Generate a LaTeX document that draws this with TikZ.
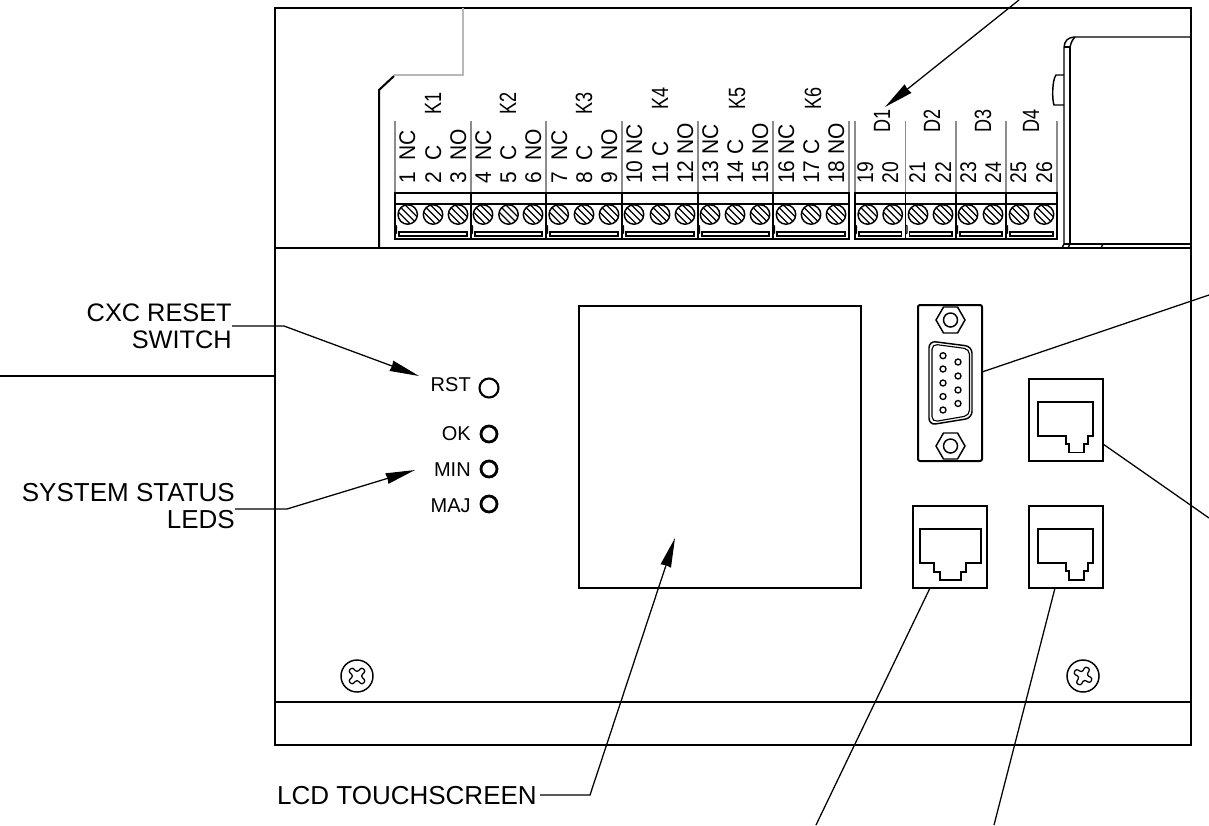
\documentclass[tikz,border=0pt]{standalone}
\usepackage{fontspec}
\setmainfont{Liberation Sans}
\usetikzlibrary{arrows.meta,calc}
\tikzset{
  px/.style={x=0.75pt,y=-0.75pt},
  heavy/.style={line width=1.5pt,black},
  med/.style={line width=1.1pt,black},
  blockline/.style={line width=1pt,black},
  thin1/.style={line width=0.85pt,black},
  leader/.style={line width=0.95pt,black},
  pointer/.style={leader,-{Stealth[length=22pt,width=8pt,inset=0.5pt]}},
  guide/.style={line width=1.1pt,black!45},
  paleguide/.style={line width=1.1pt,black!28},
  big/.style={inner sep=0pt,font=\fontsize{19.5pt}{20.25pt}\selectfont,align=right},
  led/.style={inner sep=0pt,anchor=base east,font=\fontsize{15pt}{18pt}\selectfont},
  term/.style={inner sep=0pt,rotate=90,anchor=base west,font=\fontsize{15.75pt}{18pt}\selectfont},
  jack/.style={draw,heavy,inner sep=0pt,minimum width=55.5pt,minimum height=61.5pt},
}
\newcommand{\screwhead}[2]{%
  \draw[line width=1.1pt] (#1,#2) circle (9.7);
  \begin{scope}[shift={(#1,#2)}]
    \clip (0,0) circle (9.7);
    \draw[line width=.9pt] (-9,-9) -- (9,9) (-9,-16) -- (16,9) (-16,-9) -- (9,16);
  \end{scope}}
\newcommand{\panelscrew}[3]{%
  \draw[med] (#1,#2) circle (16);
  \begin{scope}[shift={(#1,#2)},rotate=#3]
    \draw[line width=.95pt,rounded corners=1.6pt] (-2.7,-2.7) -- (-2.7,-9.5) -- (2.7,-9.5) -- (2.7,-2.7) -- (9.5,-2.7) -- (9.5,2.7) -- (2.7,2.7) -- (2.7,9.5) -- (-2.7,9.5) -- (-2.7,2.7) -- (-9.5,2.7) -- (-9.5,-2.7) -- cycle;
  \end{scope}}
\newcommand{\hexnut}[2]{%
  \draw[med] (#1-14.5,#2) -- (#1-7,#2-13) -- (#1+7,#2-13) -- (#1+14.5,#2) -- (#1+7,#2+13) -- (#1-7,#2+13) -- cycle;
  \draw[med] (#1,#2) circle (7);}
\begin{document}
\begin{tikzpicture}[px]
\useasboundingbox (0,0) rectangle (1209,825);
% housing
\draw[heavy] (275,8) rectangle (1191,745);
\draw[heavy] (275,248) -- (1191,248);
\draw[heavy] (275,702) -- (1191,702);
\draw[paleguide] (463,8) -- (463,75) -- (394,75);
\draw[heavy] (394,76) -- (379,90) -- (379,248);
% right module
\draw[med] (1191,37) -- (1075,37) .. controls (1068,37) and (1064,41) .. (1064,48) -- (1064,244);
\draw[med] (1070,244) -- (1070,47) -- (1064,47);
\draw[med] (1070,47) .. controls (1071,43) and (1072,40) .. (1075,37);
\draw[med] (1064,244) -- (1191,244);
\draw[med] (1064,244) -- (1062,248) (1070,244) -- (1068,248) (1103,244) -- (1101,248);
\draw[med] (1064,75) -- (1056,75) .. controls (1052,80) and (1052,100) .. (1054,105) -- (1064,105);
% relay and digital terminal blocks
\foreach \a/\b in {395/471,471/546,546/622,622/698,698/773,773/849,855/905.5,905.5/956,956/1006,1006/1057}{
  \draw[guide] (\a,121) -- (\a,193);
  \draw[guide] (\b,121) -- (\b,193);
  \draw[blockline] (\a,193) rectangle (\b,239);
  \draw[blockline] (\a,204) -- (\b,204);
  \draw[thin1] (\a+4,232) rectangle (\b-4,236);
  \draw[thin1] (\a,225) -- (\a+1.5,226) -- (\a+1.5,233) -- (\a,234);
}
\foreach \x in {407.7,433,458,483,508.5,533,558.7,584,609,634,660,685,710,735,760,786,811,836,867.7,892.7,918,943,968,993,1019,1044}{
  \screwhead{\x}{214.5}
}
% terminal labels
\foreach \i/\x/\t in {a/407/1\ \ NC,b/433/2\ \ C,c/458/3\ \ NO,d/483/4\ \ NC,e/508/5\ \ C,f/533/6\ \ NO,g/559/7\ \ NC,h/584/8\ \ C,i/609/9\ \ NO,j/634/10 NC,k/660/11 C,l/685/12 NO,m/710/13 NC,n/735/14 C,o/760/15 NO,p/786/16 NC,q/811/17 C,r/836/18 NO}{
  \node[term,name=lab\i] at (\x+8,184) {\scalebox{1}[1.08]{\t}};
}
\foreach \i/\x/\t in {s/865/19,t/890/20,u/917/21,v/943/22,w/968/23,x/993/24,y/1018/25,z/1044/26}{
  \node[term,name=lab\i] at (\x+8,184) {\scalebox{.92}[1.08]{\t}};
}
\foreach \x/\y/\t in {433/115/K1,508/115/K2,584/115/K3,660/110/K4,737/110/K5,813/110/K6,882/133/D1,932/133/D2,983/133/D3,1031/133/D4}{
  \node[term,name=lab\t] at (\x+8,\y) {\scalebox{.86}[1.12]{\t}};
}
% LEDs
\node[led] (rst) at (471,391) {RST};
\node[led] (ok) at (471,440) {OK};
\node[led] (min) at (471,476) {MIN};
\node[led] (maj) at (471,512) {MAJ};
\draw[line width=1.6pt] (489,388) circle (9.5);
\draw[line width=2.1pt] (489,434) circle (8);
\draw[line width=2.1pt] (489,469) circle (8);
\draw[line width=2.1pt] (489,504) circle (8);
% display
\node[draw,med,inner sep=0pt,minimum width=211.5pt,minimum height=211.5pt] (lcd) at (720,447) {};
% DB9
\node[draw,heavy,rounded corners=1.5pt,inner sep=0pt,minimum width=48pt,minimum height=117pt] (db9) at (950,383) {};
\hexnut{950.5}{320}
\hexnut{950.5}{446}
\draw[med,rounded corners=5pt] (929,341) -- (972,346.5) -- (972,418) -- (929,425) -- cycle;
\draw[thin1,rounded corners=4pt] (932,344) -- (969.5,349) -- (969.5,415.5) -- (932,422) -- cycle;
\foreach \y in {355.7,369,383,396.5,410}{\draw[line width=1pt] (943,\y) circle (3);}
\foreach \y in {362,376,390,403.5}{\draw[line width=1pt] (958,\y) circle (3);}
% RJ45 jacks
\node[jack] (rjr) at (1066,420) {};
\node[jack] (rjb) at (1066,547) {};
\node[jack] (rjl) at (950,547) {};
\draw[med] (1038,402) -- (1093,402) -- (1093,436) -- (1088,436) -- (1088,444) -- (1084,444) -- (1084,452.5) -- (1069,452.5) -- (1069,444) -- (1066,444) -- (1066,436) -- (1038,436) -- cycle;
\draw[med] (1038,529) -- (1093,529) -- (1093,563) -- (1088,563) -- (1088,571) -- (1084,571) -- (1084,580) -- (1069,580) -- (1069,571) -- (1066,571) -- (1066,563) -- (1038,563) -- cycle;
\draw[med] (920,529) -- (981,529) -- (981,563) -- (966,563) -- (966,572) -- (961,572) -- (961,580) -- (940,580) -- (940,572) -- (934,572) -- (934,563) -- (920,563) -- cycle;
% panel screws
\panelscrew{357}{676}{45}
\panelscrew{1083}{676}{60}
% callout text
\node[big,anchor=east,font=\fontsize{19pt}{20.25pt}\selectfont] (cxc) at (232,326) {CXC RESET\\SWITCH};
\node[big,anchor=east] (sys) at (235,506) {SYSTEM STATUS\\LEDS};
\node[big,anchor=east] (lcdt) at (537,796) {LCD TOUCHSCREEN};
% connectors
\coordinate (cxcbend) at (284,326);
\coordinate (rsttip) at (419,376);
\draw[pointer] (cxc.east |- cxcbend) -- (cxcbend) -- (rsttip);
\coordinate (sysbend) at (287,509);
\coordinate (mintip) at (415,470);
\draw[pointer] (sys.east |- sysbend) -- (sysbend) -- (mintip);
\coordinate (lcdbend) at (590,795);
\coordinate (lcdtip) at (675,538);
\draw[pointer] (lcdt.east |- lcdbend) ++(3,0) -- (lcdbend) -- (lcdtip);
\coordinate (d1from) at (1019,0);
\coordinate (d1tip) at (885,107);
\draw[pointer] (d1from) -- (d1tip);
\coordinate (leftend) at (0,376);
\coordinate (wall) at (275,376);
\draw[leader] (leftend) -- (wall);
\coordinate (dbstart) at (982,372);
\coordinate (dbend) at (1209,295);
\draw[leader] (dbstart) -- (dbend);
\coordinate (rjrstart) at (1103,444);
\coordinate (rjrend) at (1209,518);
\draw[leader] (rjrstart) -- (rjrend);
\coordinate (rjlstart) at (930,588);
\coordinate (rjlend) at (816,825);
\draw[leader] (rjlstart) -- (rjlend);
\coordinate (rjbstart) at (1055,588);
\coordinate (rjbend) at (994,825);
\draw[leader] (rjbstart) -- (rjbend);
\end{tikzpicture}
\end{document}
